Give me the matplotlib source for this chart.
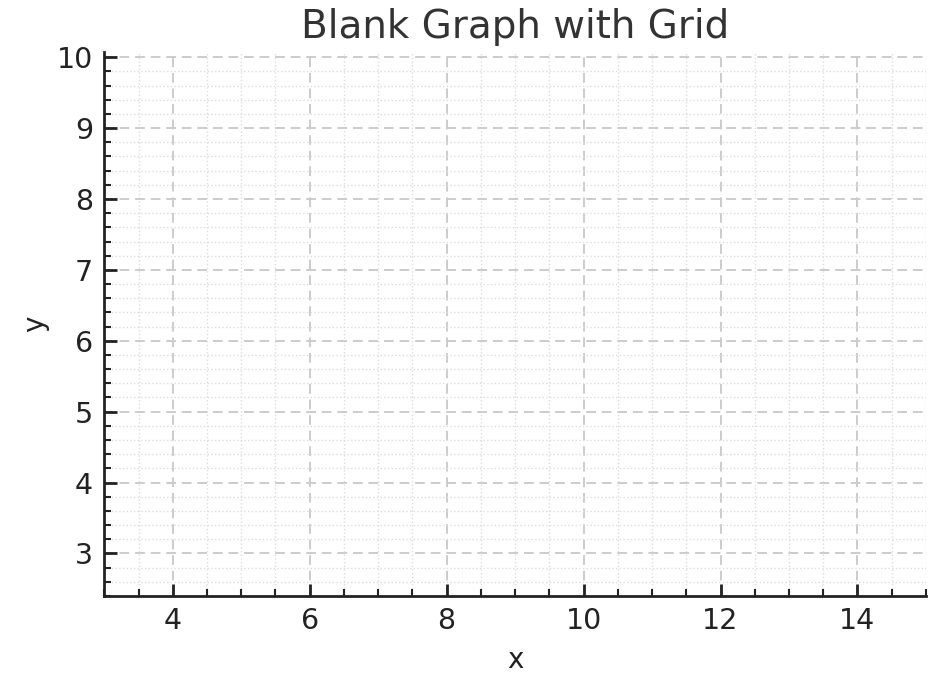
import matplotlib
matplotlib.use("Agg")
import matplotlib.pyplot as plt
from matplotlib.ticker import MultipleLocator

# axis settings
title = "Blank Graph with Grid"
x_label = "x"
y_label = "y"
x_limits = [3, 15]
y_limits = [2.4, 10.08]
x_major_step = 2
x_minor_step = 0.5
y_major_step = 1
y_minor_step = 0.2

fig = plt.figure(figsize=(9.4, 6.78), dpi=100)
ax = fig.add_axes([0.111, 0.121, 0.874, 0.803])

ax.set_xlim(x_limits)
ax.set_ylim(y_limits)

ax.xaxis.set_major_locator(MultipleLocator(x_major_step))
ax.xaxis.set_minor_locator(MultipleLocator(x_minor_step))
ax.yaxis.set_major_locator(MultipleLocator(y_major_step))
ax.yaxis.set_minor_locator(MultipleLocator(y_minor_step))

# grids: dashed major, dotted minor
ax.grid(which="major", linestyle=(0, (5, 3)), color="#cccccc", linewidth=1.4)
ax.grid(which="minor", linestyle=":", color="#dddddd", linewidth=1.0)
ax.set_axisbelow(True)

# only left and bottom spines
ax.spines["top"].set_visible(False)
ax.spines["right"].set_visible(False)
for s in ["left", "bottom"]:
    ax.spines[s].set_linewidth(2)
    ax.spines[s].set_color("#222222")

ax.tick_params(which="major", direction="in", length=9, width=2,
               labelsize=20.5, colors="#222222", pad=8)
ax.tick_params(which="minor", direction="in", length=5, width=1.5, colors="#222222")

ax.set_title(title, fontsize=28, color="#333333", pad=10)
ax.set_xlabel(x_label, fontsize=20, color="#222222", labelpad=8)
ax.set_ylabel(y_label, fontsize=20, color="#222222", labelpad=6)

plt.savefig("out.png", dpi=100)
